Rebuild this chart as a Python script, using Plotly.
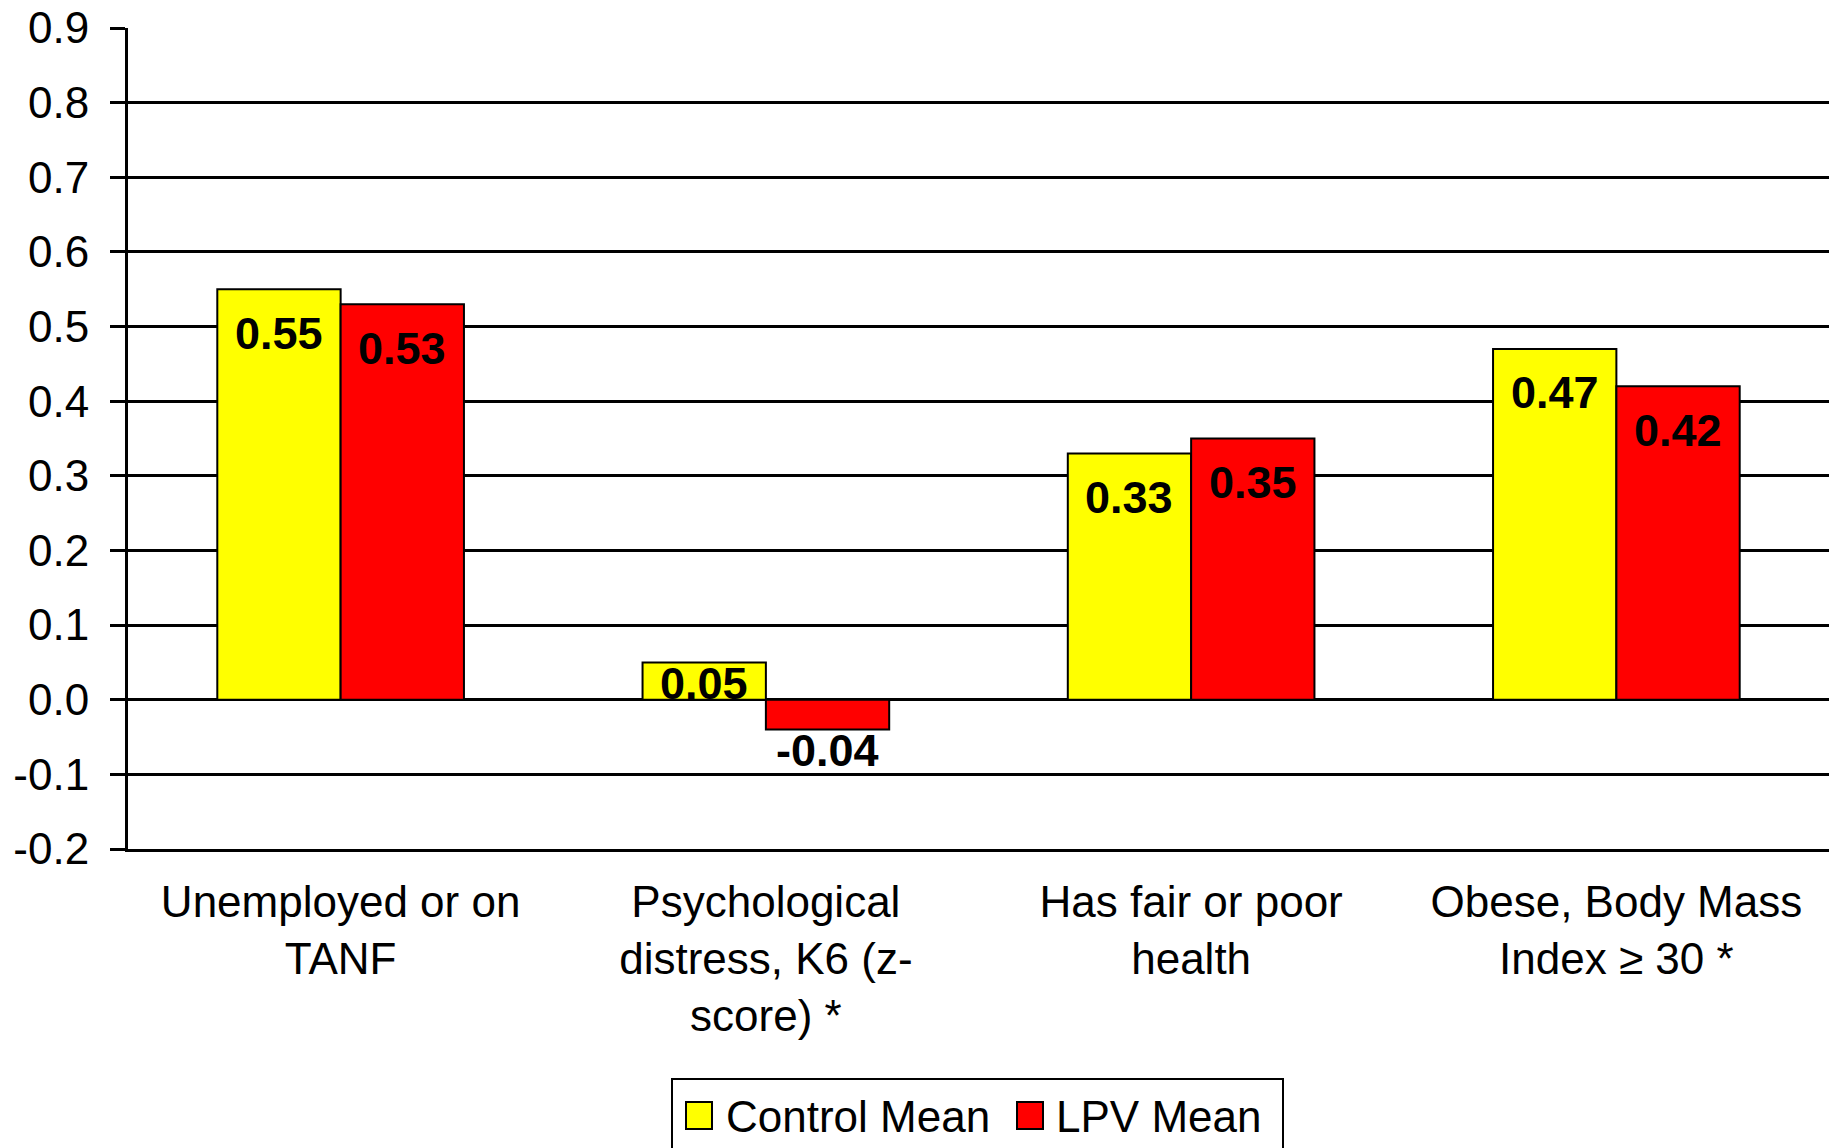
import plotly.graph_objects as go

categories = ["Unemployed or on<br>TANF",
              "Psychological<br>distress, K6 (z-<br>score) *",
              "Has fair or poor<br>health",
              "Obese, Body Mass<br>Index ≥ 30 *"]
control_mean = [0.55, 0.05, 0.33, 0.47]
lpv_mean = [0.53, -0.04, 0.35, 0.42]
series_names = ["Control Mean", "LPV Mean"]
series_colors = ["#FFFF00", "#FF0000"]
y_ticks = [-0.2, -0.1, 0.0, 0.1, 0.2, 0.3, 0.4, 0.5, 0.6, 0.7, 0.8, 0.9]
y_tick_labels = ["%.1f" % t for t in y_ticks]

W, H = 1829, 1148
L, R, T, B = 128, 0, 28, 299
PW, PH = W - L - R, H - T - B
BARGAP = 0.42
FONT = "Arial, Liberation Sans, sans-serif"

fig = go.Figure()
for name, vals, col in zip(series_names, [control_mean, lpv_mean], series_colors):
    fig.add_trace(go.Bar(x=categories, y=vals, name=name,
                         marker=dict(color=col, line=dict(color="black", width=2)),
                         showlegend=False, hoverinfo="x+y"))

# value labels
cat_w = PW / len(categories)
bar_w = cat_w * (1 - BARGAP) / 2
annotations = []
for si, vals in enumerate([control_mean, lpv_mean]):
    xs = (si - 0.5) * bar_w
    for c, v in zip(categories, vals):
        shift = -44 if v >= 0.1 else -21
        annotations.append(dict(x=c, y=v, xref="x", yref="y", text="<b>%.2f</b>" % v,
                                showarrow=False, xshift=xs, yshift=shift,
                                yanchor="middle", xanchor="center",
                                font=dict(family=FONT, size=45, color="black")))

def px(x):
    return (x - L) / PW

def py(y):
    return (H - B - y) / PH

shapes = [dict(type="rect", xref="paper", yref="paper",
               x0=px(672), x1=px(1283), y0=py(1079), y1=py(1170),
               line=dict(color="black", width=2), fillcolor="white", layer="above")]
legend_items = [(686, 727), (1017, 1057)]
for (sx, tx), name, col in zip(legend_items, series_names, series_colors):
    shapes.append(dict(type="rect", xref="paper", yref="paper",
                       x0=px(sx), x1=px(sx + 26), y0=py(1102), y1=py(1129),
                       line=dict(color="black", width=2), fillcolor=col, layer="above"))
    annotations.append(dict(x=px(tx - 3), y=py(1116), xref="paper", yref="paper",
                            text=name, showarrow=False, xanchor="left", yanchor="middle",
                            font=dict(family=FONT, size=44, color="black")))

fig.update_layout(
    width=W, height=H,
    margin=dict(l=L, r=R, t=T, b=B, pad=0),
    paper_bgcolor="white", plot_bgcolor="white",
    barmode="group", bargap=BARGAP, bargroupgap=0,
    font=dict(family=FONT, size=44, color="black"),
    annotations=annotations, shapes=shapes,
    showlegend=False,
    xaxis=dict(showgrid=False, showline=True, linecolor="black", linewidth=2.5,
               ticks="", tickfont=dict(family=FONT, size=44, color="black"),
               ticklabelstandoff=12, fixedrange=True),
    yaxis=dict(range=[-0.2, 0.9], tickvals=y_ticks, ticktext=y_tick_labels,
               showgrid=True, gridcolor="black", gridwidth=2.5,
               zeroline=True, zerolinecolor="black", zerolinewidth=2.5,
               showline=True, linecolor="black", linewidth=3,
               ticks="outside", ticklen=15, tickwidth=2.5, tickcolor="black",
               tickfont=dict(family=FONT, size=44, color="black"),
               ticklabelstandoff=12, fixedrange=True),
)

fig.write_html("out.html", config={"displayModeBar": False},
               post_script="document.body.style.margin='0';document.body.style.overflow='hidden';")
